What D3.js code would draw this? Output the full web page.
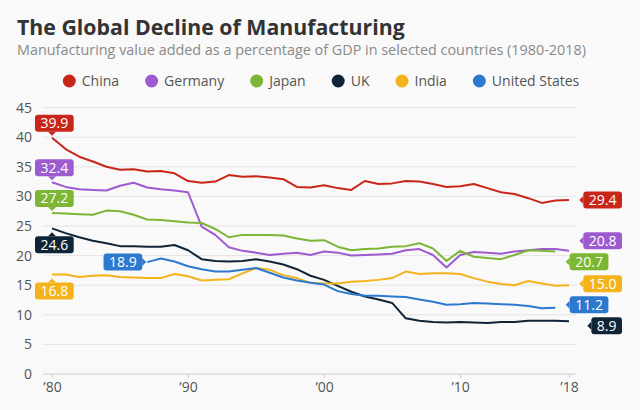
<!DOCTYPE html>
<html><head><meta charset="utf-8">
<script src="https://cdn.jsdelivr.net/npm/d3@7/dist/d3.min.js"></script>
<style>
html,body{margin:0;padding:0;background:#f9f9f9;}
svg{display:block;font-family:"Open Sans",sans-serif;}
</style></head><body>
<svg id="chart" width="640" height="410"></svg>
<script>
const years = d3.range(1980, 2019);
const china = [39.9,38.0,36.7,35.9,35.0,34.5,34.6,34.2,34.3,33.9,32.6,32.3,32.5,33.6,33.3,33.4,33.2,32.9,31.6,31.5,31.9,31.4,31.1,32.6,32.1,32.2,32.6,32.5,32.1,31.6,31.7,32.1,31.4,30.7,30.4,29.7,28.9,29.3,29.4];
const germany = [32.4,31.6,31.2,31.1,31.0,31.8,32.3,31.5,31.2,31.0,30.7,24.9,23.5,21.4,20.8,20.5,20.1,20.3,20.5,20.1,20.7,20.5,20.0,20.1,20.2,20.3,20.9,21.1,20.1,18.0,20.1,20.6,20.5,20.3,20.7,20.9,21.1,21.1,20.8];
const japan = [27.2,27.1,27.0,26.9,27.6,27.5,26.9,26.1,26.0,25.8,25.6,25.5,24.5,23.1,23.5,23.5,23.5,23.4,22.9,22.5,22.6,21.5,20.9,21.1,21.2,21.5,21.6,22.1,21.2,19.1,20.8,19.8,19.6,19.4,20.1,20.9,20.8,20.7,null];
const uk = [24.6,23.8,23.1,22.5,22.1,21.6,21.6,21.5,21.5,21.8,20.9,19.4,19.1,19.0,19.1,19.4,19.0,18.5,17.7,16.6,15.9,14.9,13.9,13.1,12.6,12.0,9.4,9.0,8.8,8.7,8.8,8.7,8.6,8.8,8.8,9.0,9.0,9.0,8.9];
const india = [16.8,16.8,16.4,16.6,16.7,16.4,16.3,16.2,16.2,16.9,16.5,15.8,15.9,16.0,17.0,17.9,17.6,16.7,16.2,15.4,15.3,15.3,15.6,15.7,15.9,16.2,17.3,16.9,17.0,17.0,16.9,16.2,15.6,15.2,15.0,15.7,15.3,14.9,15.0];
const usa = [null,null,null,null,null,null,null,18.9,19.5,19.0,18.2,17.7,17.3,17.3,17.6,17.9,17.1,16.3,15.8,15.4,15.1,14.0,13.5,13.2,13.2,13.1,13.0,12.6,12.2,11.7,11.8,12.0,11.9,11.8,11.7,11.5,11.1,11.2,null];

const seriesNames = ["China","Germany","Japan","UK","India","United States"];
const seriesValues = [china, germany, japan, uk, india, usa];
const seriesColors = ["#c9261a","#9d5bcf","#7db534","#0f2437","#f4b31b","#2c79cf"];
const startLabelSide = ["above","above","above","below","below","left"];
const yTicks = [0,5,10,15,20,25,30,35,40,45];
const xTicks = [1980,1990,2000,2010,2018];
const xTickLabels = ["\u201980","\u201990","\u201900","\u201910","\u201918"];
const titleText = "The Global Decline of Manufacturing";
const subtitleText = "Manufacturing value added as a percentage of GDP in selected countries (1980-2018)";

const svg = d3.select("#chart");
svg.append("rect").attr("width",640).attr("height",410).attr("fill","#f9f9f9");

const x = d3.scaleLinear().domain([1980,2018]).range([52,569]);
const y = d3.scaleLinear().domain([0,45]).range([374,107.6]);

// title
svg.append("text").attr("x",17).attr("y",35).attr("font-size",21.3).attr("font-weight",700)
  .attr("fill","#333").text(titleText);
svg.append("text").attr("x",17).attr("y",55).attr("font-size",14.4)
  .attr("fill","#8a8a8a").text(subtitleText);

// legend
const leg = svg.append("g");
let lx = 0;
const legGap = 26;
seriesNames.forEach((n,i)=>{
  const g = leg.append("g").attr("transform",`translate(${lx},0)`);
  g.append("circle").attr("cx",6.5).attr("cy",0).attr("r",6.5).attr("fill",seriesColors[i]);
  const t = g.append("text").attr("x",19).attr("y",5).attr("font-size",14).attr("fill","#555").text(n);
  lx += 19 + t.node().getComputedTextLength() + legGap;
});
lx -= legGap;
leg.attr("transform",`translate(${(640-lx)/2+1},81)`);

// grid
const grid = svg.append("g");
grid.selectAll("line").data(yTicks.filter(d=>d>0)).join("line")
  .attr("x1",43).attr("x2",576).attr("y1",d=>y(d)).attr("y2",d=>y(d))
  .attr("stroke","#e4e4e4").attr("stroke-width",1);

// y axis
const yAxis = d3.axisLeft(y).tickValues(yTicks).tickSize(0).tickPadding(0);
const yg = svg.append("g").attr("transform","translate(32,0)").call(yAxis);
yg.select(".domain").remove();
yg.selectAll("text").attr("font-size",14).attr("fill","#555").attr("font-family","Open Sans, sans-serif");

// x axis
const xAxis = d3.axisBottom(x).tickValues(xTicks).tickFormat((d,i)=>xTickLabels[i]).tickSize(4).tickPadding(4);
const xg = svg.append("g").attr("transform",`translate(0,${y(0)})`).call(xAxis);
xg.select(".domain").remove();
xg.selectAll(".tick line").attr("stroke","#ccc");
xg.selectAll("text").attr("font-size",14).attr("fill","#555").attr("font-family","Open Sans, sans-serif");
svg.append("line").attr("x1",43).attr("x2",576).attr("y1",y(0)).attr("y2",y(0)).attr("stroke","#ccc");

// lines
const line = d3.line().defined(d=>d[1]!=null).x(d=>x(d[0])).y(d=>y(d[1]));
seriesValues.forEach((vals,i)=>{
  svg.append("path").datum(years.map((yr,j)=>[yr,vals[j]]))
    .attr("d",line).attr("fill","none").attr("stroke",seriesColors[i])
    .attr("stroke-width",2).attr("stroke-linejoin","round");
});

// label helper
const H = 17;
function drawLabel(txt, color, mode, px, py) {
  const g = svg.append("g");
  const t = g.append("text").attr("font-size",14).attr("fill","#fff").attr("text-anchor","middle").text(txt);
  const w = t.node().getComputedTextLength() + 11;
  let bx, by, tri;
  if (mode === "above") {
    bx = px - 17; by = py - 6 - H;
    tri = [[px-4,py-6],[px+4,py-6],[px,py-2]];
  } else if (mode === "below") {
    bx = px - 17; by = py + 8;
    tri = [[px-4,py+8],[px+4,py+8],[px,py+4]];
  } else if (mode === "left") {
    bx = px - 5 - w; by = py - H/2;
    tri = [[px-5,py-4],[px-5,py+4],[px-1,py]];
  } else {
    bx = px - w; by = py - H/2;
    tri = [[bx,py-4],[bx,py+4],[bx-4,py]];
  }
  g.insert("rect","text").attr("x",bx).attr("y",by).attr("width",w).attr("height",H).attr("rx",3).attr("fill",color);
  g.insert("polygon","text").attr("points",tri.map(p=>p.join(",")).join(" ")).attr("fill",color);
  t.attr("x",bx+w/2).attr("y",by+H/2+5);
}

// start labels
seriesValues.forEach((vals,i)=>{
  const j = vals.findIndex(v=>v!=null);
  drawLabel(d3.format(".1f")(vals[j]), seriesColors[i], startLabelSide[i], x(years[j]), y(vals[j]));
});

// end labels with collision avoidance
const ends = seriesValues.map((vals,i)=>{
  let j = vals.length-1; while (vals[j]==null) j--;
  return {i, year: years[j], v: vals[j], target: y(vals[j])};
}).sort((a,b)=> a.target - b.target || b.v - a.v);
const gap = 21;
let clusters = ends.map(e=>({items:[e], center:e.target}));
let changed = true;
function pos(c){ return c.items.map((e,k)=>c.center + (k-(c.items.length-1)/2)*gap); }
while (changed) {
  changed = false;
  for (let k=0;k<clusters.length-1;k++){
    const a = clusters[k], b = clusters[k+1];
    const pa = pos(a), pb = pos(b);
    if (pb[0] - pa[pa.length-1] < gap) {
      const items = a.items.concat(b.items);
      clusters.splice(k,2,{items, center: d3.mean(items,e=>e.target)});
      changed = true; break;
    }
  }
}
clusters.forEach(c=>{
  const p = pos(c);
  c.items.forEach((e,k)=>{
    drawLabel(d3.format(".1f")(e.v), seriesColors[e.i], "end", x(e.year)+53, p[k]);
  });
});
</script>
</body></html>
